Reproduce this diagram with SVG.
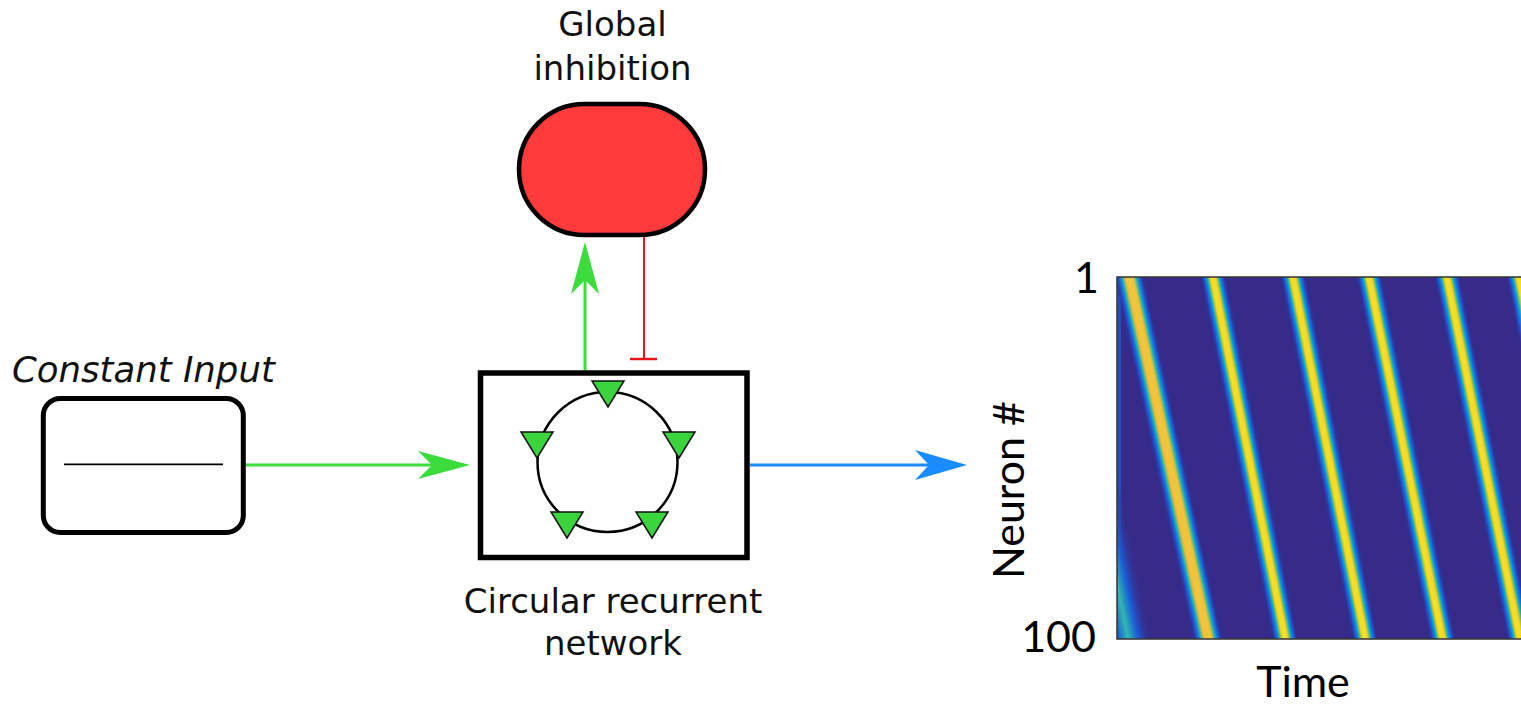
<svg xmlns="http://www.w3.org/2000/svg" width="1521" height="705" viewBox="0 0 1521 705">
  <style>
    .lbl { font-family: "DejaVu Sans", Verdana, sans-serif; font-size: 34px; fill: #111; }
    .ital { font-style: italic; font-size: 35.5px; }
    .ax { font-family: Lato, "Liberation Sans", sans-serif; font-size: 43px; fill: #000; }
    .tri { fill: #3cd43c; stroke: #111; stroke-width: 1.5; stroke-linejoin: miter; }
  </style>
  <defs>
    <marker id="arrG" viewBox="0 -16 54 32" markerWidth="54" markerHeight="32" refX="14" refY="0" markerUnits="userSpaceOnUse" orient="auto">
      <path d="M0,-14 L52,0 L0,14 L14,0 Z" fill="#3ddc3d"/>
    </marker>
    <marker id="arrB" viewBox="0 -16 54 32" markerWidth="54" markerHeight="32" refX="14" refY="0" markerUnits="userSpaceOnUse" orient="auto">
      <path d="M0,-15 L52,0 L0,15 L14,0 Z" fill="#1a8cff"/>
    </marker>
    <linearGradient id="stripeY" x1="0" y1="0" x2="1" y2="0">
      <stop offset="0" stop-color="#372b8a" stop-opacity="0"/>
      <stop offset="0.1" stop-color="#2a3fb8"/>
      <stop offset="0.2" stop-color="#0f78e0"/>
      <stop offset="0.28" stop-color="#12b0c8"/>
      <stop offset="0.35" stop-color="#b8c535"/>
      <stop offset="0.42" stop-color="#f8e020"/>
      <stop offset="0.58" stop-color="#f6d82a"/>
      <stop offset="0.65" stop-color="#a8c540"/>
      <stop offset="0.72" stop-color="#12b0c8"/>
      <stop offset="0.8" stop-color="#0f78e0"/>
      <stop offset="0.9" stop-color="#2a3fb8"/>
      <stop offset="1" stop-color="#372b8a" stop-opacity="0"/>
    </linearGradient>
    <linearGradient id="stripeO" x1="0" y1="0" x2="1" y2="0">
      <stop offset="0" stop-color="#372b8a" stop-opacity="0"/>
      <stop offset="0.1" stop-color="#2a3fb8"/>
      <stop offset="0.2" stop-color="#0f78e0"/>
      <stop offset="0.28" stop-color="#2ab6b0"/>
      <stop offset="0.36" stop-color="#d8bc3a"/>
      <stop offset="0.42" stop-color="#f6c23c"/>
      <stop offset="0.6" stop-color="#f2c43a"/>
      <stop offset="0.66" stop-color="#c8c040"/>
      <stop offset="0.73" stop-color="#2ab6b0"/>
      <stop offset="0.82" stop-color="#0f78e0"/>
      <stop offset="0.91" stop-color="#2a3fb8"/>
      <stop offset="1" stop-color="#372b8a" stop-opacity="0"/>
    </linearGradient>
    <linearGradient id="stripeC" x1="0" y1="0" x2="1" y2="0">
      <stop offset="0" stop-color="#372b8a" stop-opacity="0"/>
      <stop offset="0.3" stop-color="#1a5ed8"/>
      <stop offset="0.5" stop-color="#30b8b0"/>
      <stop offset="0.7" stop-color="#1a5ed8"/>
      <stop offset="1" stop-color="#372b8a" stop-opacity="0"/>
    </linearGradient>
    <clipPath id="hmClip">
      <rect x="1117" y="277" width="404" height="362"/>
    </clipPath>
  </defs>

  <!-- Global inhibition node -->
  <g id="global-inhibition">
    <rect x="519" y="104" width="186" height="131" rx="65.5" ry="65.5" fill="#ff3a3a" stroke="#000" stroke-width="4.5"/>
    <text class="lbl" x="612.5" y="36" text-anchor="middle">Global</text>
    <text class="lbl" x="612.5" y="80" text-anchor="middle">inhibition</text>
  </g>

  <!-- Constant input node -->
  <g id="constant-input">
    <rect x="43.3" y="398.5" width="200" height="134" rx="17" ry="17" fill="#fff" stroke="#000" stroke-width="5"/>
    <line x1="64" y1="464.3" x2="223" y2="464.3" stroke="#000" stroke-width="1.8"/>
    <text class="lbl ital" x="12" y="382">Constant Input</text>
  </g>

  <!-- Circular recurrent network node -->
  <g id="circular-network">
    <rect x="480.5" y="373" width="266.5" height="184.5" fill="#fff" stroke="#000" stroke-width="5.5"/>
    <circle cx="607.5" cy="462" r="70" fill="none" stroke="#000" stroke-width="2.5"/>
    <polygon class="tri" points="592,381 624,381 608,407"/>
    <polygon class="tri" points="663,432 695,432 679,458"/>
    <polygon class="tri" points="521,432 553,432 537,458"/>
    <polygon class="tri" points="551,512 583,512 567,538"/>
    <polygon class="tri" points="636,512 668,512 652,538"/>
    <text class="lbl" x="613" y="613" text-anchor="middle">Circular recurrent</text>
    <text class="lbl" x="613" y="655" text-anchor="middle">network</text>
  </g>

  <!-- Raster output node -->
  <g id="raster-plot">
    <g clip-path="url(#hmClip)">
      <rect x="1117" y="277" width="404" height="362" fill="#372b8a"/>
      <rect x="1117" y="277" width="4" height="362" fill="#1a5ed8" opacity="0.7"/>
      <rect x="-24" y="0" width="48" height="362" fill="url(#stripeC)" transform="translate(1054,277) skewX(11.6)"/>
      <rect x="-15" y="0" width="30" height="362" fill="url(#stripeO)" transform="translate(1129,277) skewX(12.3)"/>
      <rect x="-13" y="0" width="26" height="362" fill="url(#stripeY)" transform="translate(1213,277) skewX(11.3)"/>
      <rect x="-13" y="0" width="26" height="362" fill="url(#stripeY)" transform="translate(1293,277) skewX(11.3)"/>
      <rect x="-13" y="0" width="26" height="362" fill="url(#stripeY)" transform="translate(1369,277) skewX(11.5)"/>
      <rect x="-13" y="0" width="26" height="362" fill="url(#stripeY)" transform="translate(1447,277) skewX(11.4)"/>
      <rect x="-13" y="0" width="26" height="362" fill="url(#stripeY)" transform="translate(1519,277) skewX(11.4)"/>
    </g>
    <path d="M1521,277 H1117 V639 H1521" fill="none" stroke="#333" stroke-width="1.5"/>
    <text class="ax" x="1099" y="293" text-anchor="end">1</text>
    <text class="ax" x="1096" y="652" text-anchor="end">100</text>
    <text class="ax" x="1303" y="697" text-anchor="middle">Time</text>
    <text class="ax" transform="translate(1024,490) rotate(-90)" text-anchor="middle">Neuron #</text>
  </g>

  <!-- Connectors -->
  <g id="connectors" fill="none">
    <line x1="246" y1="465" x2="432" y2="465" stroke="#3ddc3d" stroke-width="3" marker-end="url(#arrG)"/>
    <line x1="585" y1="370" x2="585" y2="280" stroke="#3ddc3d" stroke-width="3" marker-end="url(#arrG)"/>
    <line x1="644" y1="237" x2="644" y2="359" stroke="#e8141c" stroke-width="2"/>
    <line x1="630" y1="359" x2="657" y2="359" stroke="#e8141c" stroke-width="2.5"/>
    <line x1="750" y1="465" x2="929" y2="465" stroke="#1a8cff" stroke-width="3" marker-end="url(#arrB)"/>
  </g>
</svg>
